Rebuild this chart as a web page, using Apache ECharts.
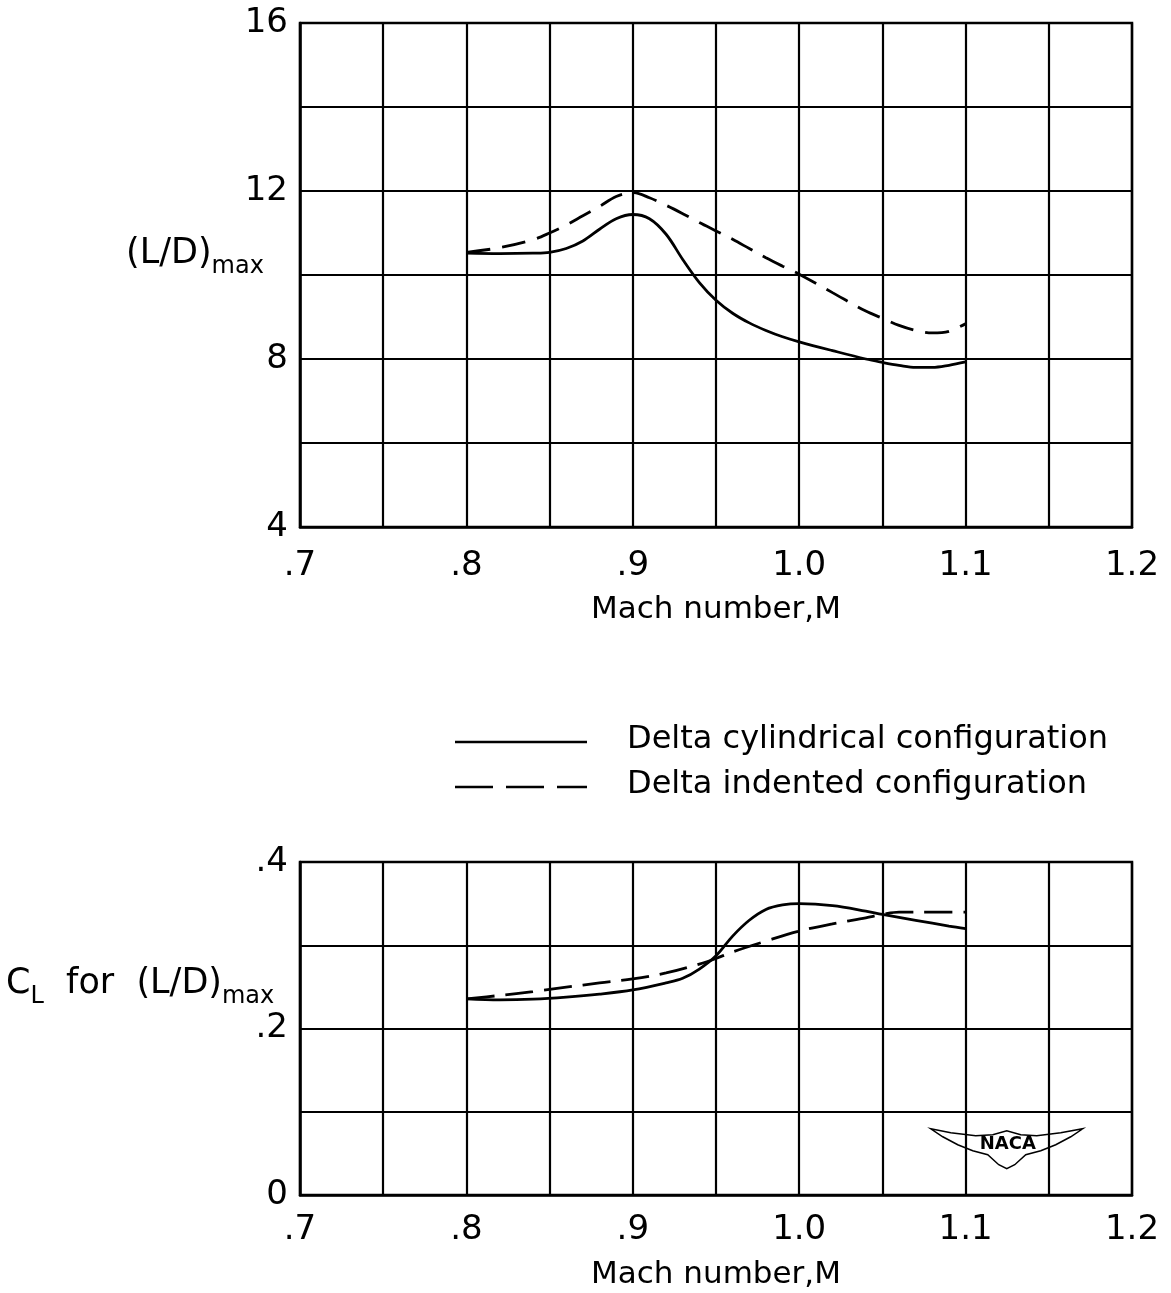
<!DOCTYPE html>
<html>
<head>
<meta charset="utf-8">
<script src="https://cdn.jsdelivr.net/npm/echarts@6/dist/echarts.min.js"></script>
<style>
html,body{margin:0;padding:0;background:#fff;}
#c{width:1171px;height:1293px;}
</style>
</head>
<body>
<div id="c"></div>
<script>
// ---- Data ----
const xTickLabels = {"0.7": ".7", "0.8": ".8", "0.9": ".9", "1": "1.0", "1.1": "1.1", "1.2": "1.2"};
const ldTickLabels = {"4": "4", "8": "8", "12": "12", "16": "16"};
const clTickLabels = {"0": "0", "0.2": ".2", "0.4": ".4"};

// (L/D)max, delta cylindrical (solid)
const machLDSolid = [0.80, 0.82, 0.84, 0.85, 0.86, 0.87, 0.88, 0.89, 0.90, 0.91, 0.92, 0.93, 0.94, 0.95, 0.96, 0.97, 0.98, 0.99, 1.00, 1.02, 1.04, 1.05, 1.06, 1.07, 1.08, 1.09, 1.10];
const ldSolid     = [10.52, 10.51, 10.52, 10.54, 10.63, 10.81, 11.09, 11.34, 11.44, 11.34, 10.97, 10.37, 9.82, 9.40, 9.09, 8.86, 8.68, 8.53, 8.41, 8.20, 8.00, 7.92, 7.85, 7.80, 7.80, 7.85, 7.93];
// (L/D)max, delta indented (dashed)
const machLDDashed = [0.80, 0.82, 0.84, 0.85, 0.86, 0.87, 0.88, 0.89, 0.90, 0.91, 0.92, 0.93, 0.94, 0.95, 0.96, 0.97, 0.98, 0.99, 1.00, 1.02, 1.04, 1.05, 1.06, 1.07, 1.08, 1.09, 1.10];
const ldDashed     = [10.54, 10.65, 10.84, 11.00, 11.19, 11.41, 11.63, 11.87, 11.96, 11.84, 11.66, 11.46, 11.25, 11.05, 10.85, 10.63, 10.41, 10.21, 10.02, 9.58, 9.14, 8.97, 8.80, 8.68, 8.62, 8.66, 8.84];

// CL for (L/D)max, solid
const machCLSolid = [0.80, 0.82, 0.84, 0.86, 0.88, 0.90, 0.92, 0.93, 0.94, 0.95, 0.96, 0.97, 0.98, 0.99, 1.00, 1.02, 1.04, 1.05, 1.07, 1.09, 1.10];
const clSolid     = [0.2357, 0.2345, 0.2353, 0.2377, 0.2413, 0.2464, 0.2548, 0.2603, 0.2714, 0.2873, 0.311, 0.330, 0.343, 0.3484, 0.350, 0.3476, 0.341, 0.337, 0.330, 0.323, 0.320];
// CL for (L/D)max, dashed
const machCLDashed = [0.80, 0.82, 0.84, 0.86, 0.88, 0.90, 0.92, 0.94, 0.95, 0.96, 0.98, 1.00, 1.02, 1.04, 1.05, 1.06, 1.08, 1.10];
const clDashed     = [0.2357, 0.2397, 0.2444, 0.2496, 0.2548, 0.2595, 0.2667, 0.2774, 0.2841, 0.292, 0.305, 0.317, 0.3258, 0.333, 0.337, 0.3397, 0.3397, 0.3397];

const legendNames = ["Delta cylindrical configuration", "Delta indented configuration"];

// ---- Chart ----
const FONT = "'DejaVu Sans', 'Noto Sans', sans-serif";
const zip = (a, b) => a.map((v, i) => [v, b[i]]);
const fmtKey = v => String(+v.toFixed(3));

const chart = echarts.init(document.getElementById('c'), null, {renderer: 'canvas'});

function xAxisFor(gridIndex, margin, nameGap) {
  return {
    gridIndex: gridIndex,
    type: 'value', min: 0.7, max: 1.2, interval: 0.05,
    axisLine: {show: true, lineStyle: {color: '#000', width: 2.5}},
    axisTick: {show: false},
    splitLine: {show: true, lineStyle: {color: '#000', width: 2.2}},
    axisLabel: {
      color: '#000', fontSize: 34, fontFamily: FONT, margin: margin,
      showMinLabel: true, showMaxLabel: true,
      formatter: v => xTickLabels[fmtKey(v)] || ''
    },
    name: 'Mach number,M', nameLocation: 'middle', nameGap: nameGap,
    nameTextStyle: {color: '#000', fontSize: 31, fontFamily: FONT}
  };
}

const yCommon = {
  type: 'value',
  axisLine: {show: true, lineStyle: {color: '#000', width: 2.5}},
  axisTick: {show: false},
  splitLine: {show: true, lineStyle: {color: '#000', width: 2.2}}
};

const lineW = 2.8;
const dash = [24, 12];

chart.setOption({
  animation: false,
  backgroundColor: '#fff',
  grid: [
    {left: 300, top: 23, width: 832, height: 504, show: true, borderColor: '#000', borderWidth: 2.5},
    {left: 300, top: 862, width: 832, height: 333, show: true, borderColor: '#000', borderWidth: 2.5}
  ],
  xAxis: [xAxisFor(0, 22, 67), xAxisFor(1, 18, 64)],
  yAxis: [
    Object.assign({gridIndex: 0, min: 4, max: 16, interval: 2,
      axisLabel: {color: '#000', fontSize: 34, fontFamily: FONT, margin: 12,
        formatter: v => ldTickLabels[fmtKey(v)] || ''}}, yCommon),
    Object.assign({gridIndex: 1, min: 0, max: 0.4, interval: 0.1,
      axisLabel: {color: '#000', fontSize: 34, fontFamily: FONT, margin: 12,
        formatter: v => clTickLabels[fmtKey(v)] || ''}}, yCommon)
  ],
  series: [
    {name: legendNames[0], type: 'line', xAxisIndex: 0, yAxisIndex: 0, smooth: 0.35, symbol: 'none',
      lineStyle: {color: '#000', width: lineW}, data: zip(machLDSolid, ldSolid)},
    {name: legendNames[1], type: 'line', xAxisIndex: 0, yAxisIndex: 0, smooth: 0.35, symbol: 'none',
      lineStyle: {color: '#000', width: lineW, type: dash}, data: zip(machLDDashed, ldDashed)},
    {name: legendNames[0], type: 'line', xAxisIndex: 1, yAxisIndex: 1, smooth: 0.35, symbol: 'none',
      lineStyle: {color: '#000', width: lineW}, data: zip(machCLSolid, clSolid)},
    {name: legendNames[1], type: 'line', xAxisIndex: 1, yAxisIndex: 1, smooth: 0.35, symbol: 'none',
      lineStyle: {color: '#000', width: lineW, type: [28, 11]}, data: zip(machCLDashed, clDashed)}
  ],
  graphic: [
    // y-axis title, top chart
    {type: 'text', left: 126, top: 236, style: {
      text: '{m|(L/D)}{s|max}', fill: '#000',
      rich: {m: {fontSize: 35, fontFamily: FONT, fill: '#000'},
             s: {fontSize: 24, fontFamily: FONT, fill: '#000', padding: [26, 0, 0, 0]}}
    }},
    // y-axis title, bottom chart
    {type: 'text', left: 6, top: 966, style: {
      text: '{m|C}{s|L}{m|  for  (L/D)}{s|max}', fill: '#000',
      rich: {m: {fontSize: 35, fontFamily: FONT, fill: '#000'},
             s: {fontSize: 24, fontFamily: FONT, fill: '#000', padding: [26, 0, 0, 0]}}
    }},
    // legend
    {type: 'line', shape: {x1: 455, y1: 742, x2: 587, y2: 742}, style: {stroke: '#000', lineWidth: 2.5}},
    {type: 'line', shape: {x1: 455, y1: 787, x2: 587, y2: 787}, style: {stroke: '#000', lineWidth: 2.5, lineDash: [38, 13]}},
    {type: 'text', left: 627, top: 724, style: {text: legendNames[0], fontSize: 32, fontFamily: FONT, fill: '#000'}},
    {type: 'text', left: 627, top: 769, style: {text: legendNames[1], fontSize: 32, fontFamily: FONT, fill: '#000'}},
    // NACA emblem (simplified)
    {type: 'group', left: 930, top: 1128, children: [
      {type: 'polygon', shape: {points: [[0,2],[20,6],[45,9],[62,8],[76,4],[90,8],[106,9],[130,6],[152,2],[140,10],[125,18],[110,24],[95,28],[84,38],[76,42],[68,38],[57,28],[42,24],[27,18],[12,10]]},
        style: {fill: '#fff', stroke: '#000', lineWidth: 1.5}},
      {type: 'text', left: 49, top: 9, style: {text: 'NACA', fontSize: 18, fontWeight: 'bold', fontFamily: FONT, fill: '#000'}}
    ]}
  ]
});
</script>
</body>
</html>
